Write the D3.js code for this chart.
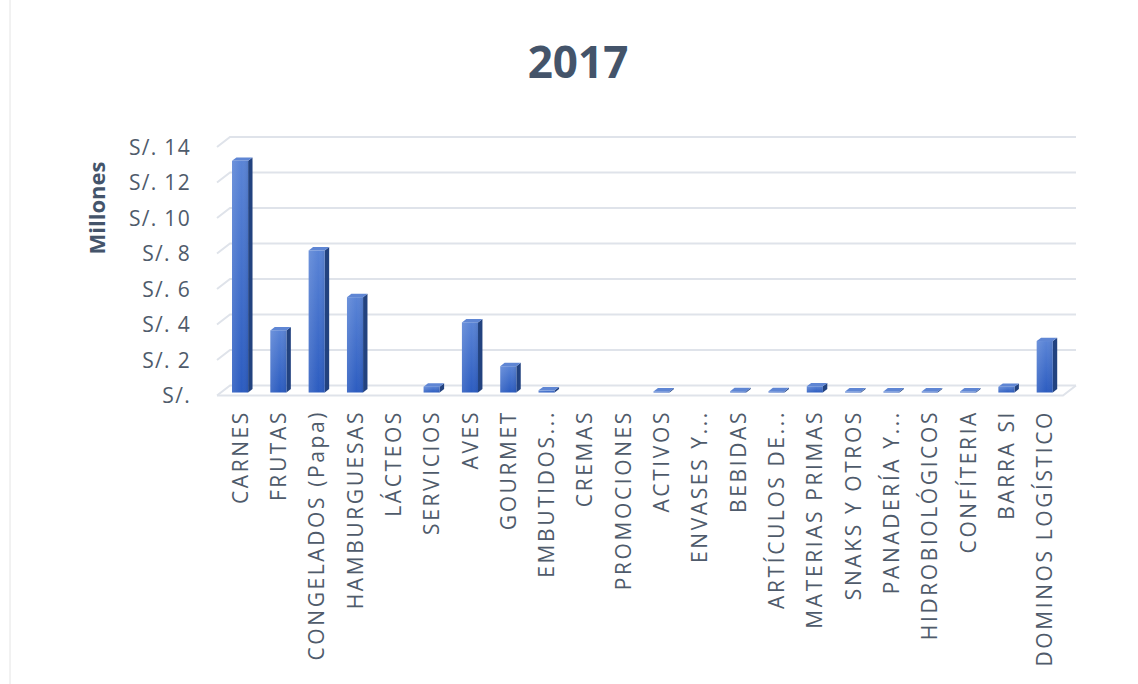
<!DOCTYPE html>
<html>
<head>
<meta charset="utf-8">
<script src="https://cdn.jsdelivr.net/npm/d3@7"></script>
<style>
  body { margin: 0; background: #fff; }
  svg text { font-family: "Open Sans", "DejaVu Sans", sans-serif; }
</style>
</head>
<body>
<svg id="chart" width="1138" height="684"></svg>
<script>
// data (millions of soles)
const categories = ["CARNES", "FRUTAS", "CONGELADOS (Papa)", "HAMBURGUESAS", "LÁCTEOS",
  "SERVICIOS", "AVES", "GOURMET", "EMBUTIDOS...", "CREMAS", "PROMOCIONES", "ACTIVOS",
  "ENVASES Y...", "BEBIDAS", "ARTÍCULOS DE...", "MATERIAS PRIMAS", "SNAKS Y OTROS",
  "PANADERÍA Y...", "HIDROBIOLÓGICOS", "CONFÍTERIA", "BARRA SI", "DOMINOS LOGÍSTICO"];
const values = [13.05, 3.5, 8.0, 5.37, 0, 0.33, 3.95, 1.48, 0.12, 0, 0, 0.06,
  0, 0.07, 0.07, 0.35, 0.05, 0.05, 0.06, 0.05, 0.32, 2.9];
const yTicks = [0, 2, 4, 6, 8, 10, 12, 14];
const tickLabel = d => d === 0 ? "S/." : "S/. " + d;

const svg = d3.select("#chart");

// 3d floor geometry
const floorY = 395.5;
const depth = [13, -10];        // full depth vector
const barFront = 0.3, barBack = 0.64;  // bars sit in the middle of the depth

const x = d3.scaleBand()
    .domain(categories)
    .range([217, 1060])
    .paddingInner(0.58)
    .paddingOuter(0.29);

const y = d3.scaleLinear()
    .domain([0, 14])
    .range([0, 248.5]);   // pixel height

// faint frame line on the left
svg.append("line")
    .attr("x1", 10).attr("x2", 10).attr("y1", 0).attr("y2", 684)
    .attr("stroke", "#e4e4e4").attr("stroke-width", 1);

// gridlines: left wall diagonal + back wall horizontal
const grid = svg.append("g").attr("stroke", "#dfe3ea").attr("stroke-width", 2).attr("fill", "none");
const x0 = x.range()[0], x1 = x.range()[1];
yTicks.forEach(t => {
    let yf = floorY - y(t);
    grid.append("path")
        .attr("d", `M${x0},${yf}L${x0 + depth[0]},${yf + depth[1]}L${x1 + 16},${yf + depth[1]}`);
});
// front floor edge
grid.append("path")
    .attr("d", `M${x0},${floorY}L${x1 + 3},${floorY}L${x1 + 16},${floorY + depth[1]}`);

// y labels
svg.append("g")
    .selectAll("text")
    .data(yTicks)
    .join("text")
    .attr("x", 191)
    .attr("y", d => floorY - y(d))
    .attr("dy", "0.36em")
    .attr("text-anchor", "end")
    .attr("fill", "#4f5b6b")
    .style("font-size", "21px")
    .style("letter-spacing", "1.3px")
    .text(tickLabel);

// gradient for front faces
const defs = svg.append("defs");
const grad = defs.append("linearGradient")
    .attr("id", "front").attr("x1", 0).attr("y1", 0).attr("x2", 0).attr("y2", 1);
grad.append("stop").attr("offset", "0%").attr("stop-color", "#5a84d6");
grad.append("stop").attr("offset", "100%").attr("stop-color", "#2c5cc0");
const gradH = defs.append("linearGradient")
    .attr("id", "frontH").attr("x1", 0).attr("y1", 0).attr("x2", 1).attr("y2", 0);
gradH.append("stop").attr("offset", "0%").attr("stop-color", "#ffffff").attr("stop-opacity", 0.12);
gradH.append("stop").attr("offset", "60%").attr("stop-color", "#ffffff").attr("stop-opacity", 0);
gradH.append("stop").attr("offset", "100%").attr("stop-color", "#000000").attr("stop-opacity", 0.08);

const data = categories.map((c, i) => ({ cat: c, v: values[i] })).filter(d => d.v > 0);

const fx = barFront * depth[0], fy = barFront * depth[1];
const bdx = (barBack - barFront) * depth[0], bdy = (barBack - barFront) * depth[1];
const bw = x.bandwidth();

const bars = svg.append("g")
    .selectAll("g")
    .data(data)
    .join("g")
    .attr("transform", d => `translate(${x(d.cat) + fx},${floorY + fy})`);

// side face
bars.append("path")
    .attr("fill", "#22427f")
    .attr("d", d => {
        let h = Math.max(y(d.v), 1);
        return `M${bw},0L${bw + bdx},${bdy}L${bw + bdx},${-h + bdy}L${bw},${-h}Z`;
    });

// top face
bars.append("path")
    .attr("fill", "#5f86d4")
    .attr("d", d => {
        let h = Math.max(y(d.v), 1);
        return `M0,${-h}L${bdx},${-h + bdy}L${bw + bdx},${-h + bdy}L${bw},${-h}Z`;
    });

// front face
bars.append("rect")
    .attr("x", 0)
    .attr("y", d => -Math.max(y(d.v), 1))
    .attr("width", bw)
    .attr("height", d => Math.max(y(d.v), 1))
    .attr("fill", "url(#front)");
bars.append("rect")
    .attr("x", 0)
    .attr("y", d => -Math.max(y(d.v), 1))
    .attr("width", bw)
    .attr("height", d => Math.max(y(d.v), 1))
    .attr("fill", "url(#frontH)");

// x labels, rotated
svg.append("g")
    .selectAll("text")
    .data(categories)
    .join("text")
    .attr("transform", d => `translate(${x(d) + bw / 2 + fx},410) rotate(-90)`)
    .attr("dy", "0.36em")
    .attr("text-anchor", "end")
    .attr("fill", "#4f5b6b")
    .style("font-size", "21px")
    .style("letter-spacing", "2.6px")
    .text(d => d);

// title
svg.append("text")
    .attr("x", 578)
    .attr("y", 78)
    .attr("text-anchor", "middle")
    .attr("fill", "#44546a")
    .style("font-size", "44px")
    .style("font-weight", "bold")
    .text("2017");

// axis title
svg.append("text")
    .attr("transform", "translate(97,208) rotate(-90)")
    .attr("dy", "0.36em")
    .attr("text-anchor", "middle")
    .attr("fill", "#44546a")
    .style("font-size", "22px")
    .style("font-weight", "bold")
    .text("Millones");
</script>
</body>
</html>
